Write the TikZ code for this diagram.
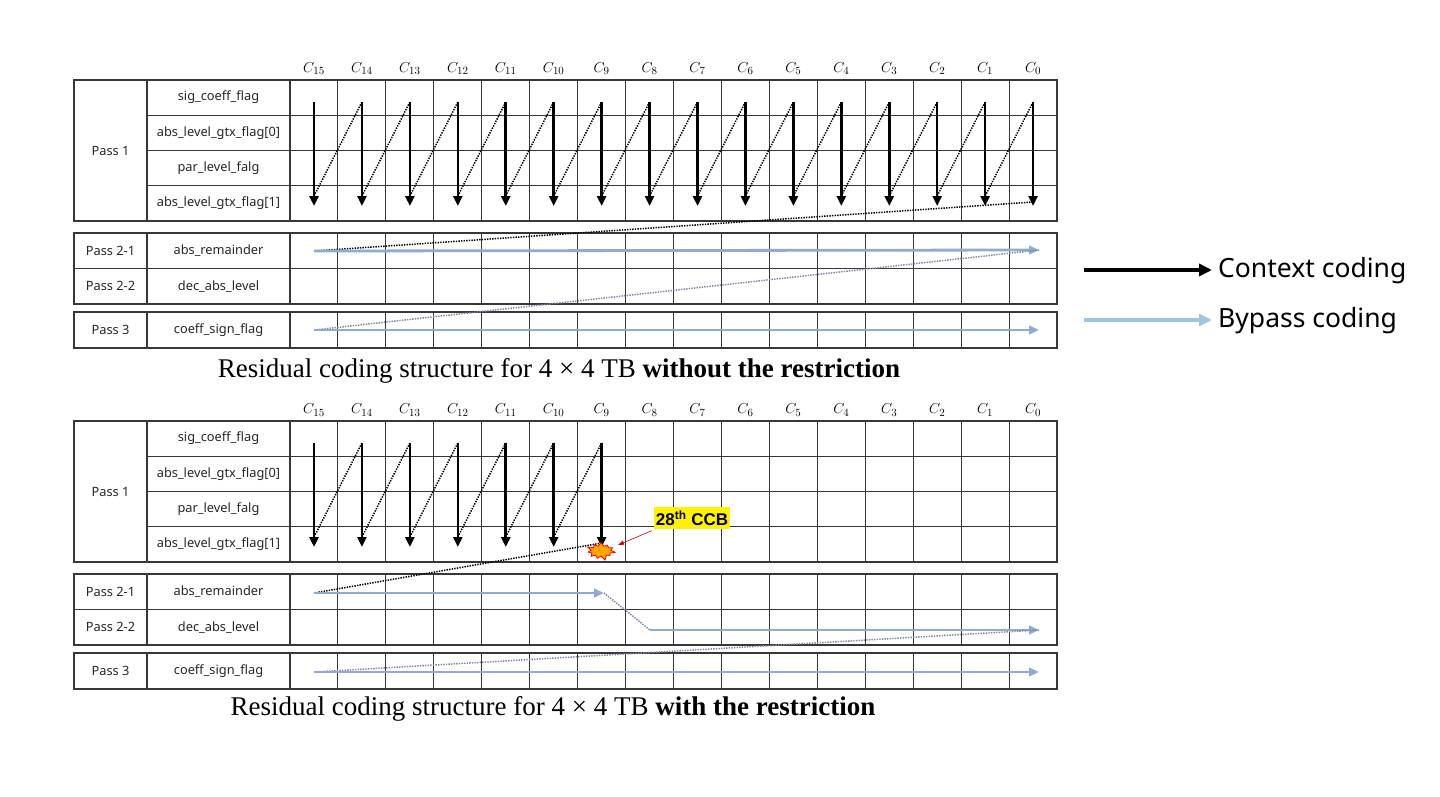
\documentclass[tikz,border=0pt]{standalone}
\usepackage{fontspec}
\setmainfont{Liberation Serif}
\newfontfamily\ksans{Noto Sans}
\newfontfamily\lsans{Liberation Sans}
\usetikzlibrary{arrows.meta,shapes.symbols}
\definecolor{gridc}{RGB}{55,55,55}
\definecolor{byp}{RGB}{143,170,214}
\definecolor{legb}{RGB}{160,195,232}
\definecolor{dotb}{RGB}{125,135,165}
\definecolor{burst}{RGB}{255,165,0}
\newcommand\cwd{47.9375}
\newcommand\rctable[2]{%
\begin{scope}[shift={(0,#1)}]
  % pass 1 box
  \draw[grid] (74,80) rectangle (1057,221);
  \draw[grid] (147,80) -- (147,221);
  \foreach \k in {0,...,16} \draw[grid] ({290+\cwd*\k},80) -- ({290+\cwd*\k},221);
  \foreach \yy in {115.25,150.5,185.75} \draw[grid] (147,\yy) -- (1057,\yy);
  % pass 2 box
  \draw[grid] (74,233) rectangle (1057,304);
  \draw[grid] (74,268.5) -- (1057,268.5);
  \draw[grid] (147,233) -- (147,304);
  \foreach \k in {0,...,16} \draw[grid] ({290+\cwd*\k},233) -- ({290+\cwd*\k},304);
  % pass 3 box
  \draw[grid] (74,312) rectangle (1057,348);
  \draw[grid] (147,312) -- (147,348);
  \foreach \k in {0,...,16} \draw[grid] ({290+\cwd*\k},312) -- ({290+\cwd*\k},348);
  % labels
  \node[lab] (pa#2) at (110.5,150.5) {Pass 1};
  \node[lab] (r1#2) at (218.5,97.6) {sig\_coeff\_flag};
  \node[lab] (r2#2) at (218.5,132.9) {abs\_level\_gtx\_flag[0]};
  \node[lab] (r3#2) at (218.5,168.1) {par\_level\_falg};
  \node[lab] (r4#2) at (218.5,203.4) {abs\_level\_gtx\_flag[1]};
  \node[lab] (pb#2) at (110.5,250.7) {Pass 2-1};
  \node[lab] (pc#2) at (110.5,286.2) {Pass 2-2};
  \node[lab] (pd#2) at (110.5,330) {Pass 3};
  \node[lab] (r5#2) at (218.5,250.7) {abs\_remainder};
  \node[lab] (r6#2) at (218.5,286.2) {dec\_abs\_level};
  \node[lab] (r7#2) at (218.5,330) {coeff\_sign\_flag};
  \foreach \k in {0,...,15}{
    \pgfmathtruncatemacro\nn{15-\k}
    \node[clab] (c#2\k) at ({314+\cwd*\k},69) {$C_{\nn}$};
    \coordinate (t#2\k) at ({314+\cwd*\k},102);
    \coordinate (b#2\k) at ({314+\cwd*\k},206);
    \coordinate (d#2\k) at ({314+\cwd*\k},196);
    \coordinate (e#2\k) at ({314+\cwd*\k},202);
  }
\end{scope}}
\begin{document}
\begin{tikzpicture}[x=1pt,y=-1pt,
  grid/.style={draw=gridc,line width=1.1pt},
  lab/.style={font=\ksans\fontsize{12.8}{14}\selectfont,text=black!85},
  clab/.style={font=\fontsize{15}{16}\selectfont},
  ctx/.style={line width=2.6pt,-{Triangle[length=10pt,width=9pt]}},
  dots/.style={dash pattern=on 1.4pt off 1.2pt,line width=1.5pt},
  bypass/.style={byp,line width=2.8pt,-{Triangle[length=10pt,width=8.5pt]}},
  bdots/.style={dotb,dash pattern=on 1.4pt off 1.2pt,line width=1.5pt},
  capt/.style={font=\fontsize{27}{29}\selectfont}]
\useasboundingbox (0,0) rectangle (1440,797);
\fill[white] (0,0) rectangle (1440,797);

%================ top table
\rctable{0}{a}
\foreach \k in {0,...,15} \draw[ctx] (ta\k) -- (ba\k);
\foreach \k [evaluate=\k as \kn using int(\k+1)] in {0,...,14} \draw[dots] (da\k) -- (ta\kn);
\coordinate (s21a) at (314,251);
\coordinate (e21a) at (1039,250);
\coordinate (s3a) at (314,330);
\coordinate (e3a) at (1039,330);
\draw[dots] (ea15) -- (s21a);
\draw[bypass] (s21a) -- (e21a);
\draw[bdots] (e21a) -- (s3a);
\draw[bypass] (s3a) -- (e3a);
\node[capt] (cap1) at (559,371) {Residual coding structure for 4 × 4 TB \textbf{without the restriction}};

%================ bottom table
\rctable{341}{b}
\foreach \k in {0,...,6} \draw[ctx] (tb\k) -- (bb\k);
\foreach \k [evaluate=\k as \kn using int(\k+1)] in {0,...,5} \draw[dots] (db\k) -- (tb\kn);
\coordinate (s21b) at (314,593);
\coordinate (e21b) at (604,593);
\coordinate (s22b) at (650,630);
\coordinate (e22b) at (1039,630);
\coordinate (s3b) at (314,672);
\coordinate (e3b) at (1039,672);
\draw[dots] (eb6) -- (s21b);
\draw[bypass] (s21b) -- (e21b);
\draw[bdots] (e21b) -- (s22b);
\draw[bypass] (s22b) -- (e22b);
\draw[bdots] (e22b) -- (s3b);
\draw[bypass] (s3b) -- (e3b);
\node[starburst,starburst points=11,starburst point height=5pt,fill=burst,draw=red,line width=0.8pt,
      minimum width=30pt,minimum height=20pt,inner sep=0pt] (boom) at (601,551) {};
\node[fill=yellow,font=\lsans\bfseries\fontsize{17}{18}\selectfont,inner xsep=2pt,inner ysep=3pt] (ccb) at (692,518)
  {28\textsuperscript{th}\ CCB};
\draw[red!80!black,line width=0.6pt,-{Triangle[length=6pt,width=4pt]}] (ccb.south west) ++(-2,2) coordinate (ccbs) -- (618,545);
\node[capt] (cap2) at (553,709) {Residual coding structure for 4 × 4 TB \textbf{with the restriction}};

%================ legend
\coordinate (l1s) at (1084,270);
\coordinate (l1e) at (1212,270);
\coordinate (l2s) at (1084,320);
\coordinate (l2e) at (1212,320);
\draw[line width=3.4pt,-{Triangle[length=13pt,width=12pt]}] (l1s) -- (l1e);
\draw[legb,line width=3.4pt,-{Triangle[length=13pt,width=12pt]}] (l2s) -- (l2e);
\node[anchor=west,font=\ksans\fontsize{26.5}{28}\selectfont,inner sep=0pt] (lt1) at (1218,271) {Context coding};
\node[anchor=west,font=\ksans\fontsize{26.5}{28}\selectfont,inner sep=0pt] (lt2) at (1218,321) {Bypass coding};
\end{tikzpicture}
\end{document}
